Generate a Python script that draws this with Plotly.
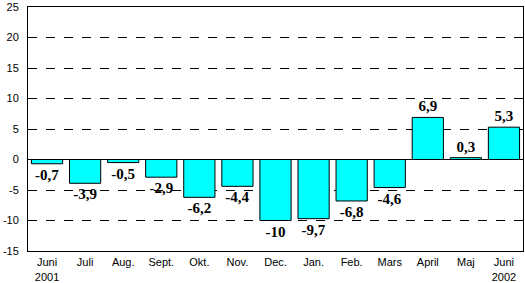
import plotly.graph_objects as go

categories = ["Juni<br>2001", "Juli", "Aug.", "Sept.", "Okt.", "Nov.", "Dec.",
              "Jan.", "Feb.", "Mars", "April", "Maj", "Juni<br>2002"]
values = [-0.7, -3.9, -0.5, -2.9, -6.2, -4.4, -10, -9.7, -6.8, -4.6, 6.9, 0.3, 5.3]
y_ticks = [-15, -10, -5, 0, 5, 10, 15, 20, 25]

labels = [f"{v:g}".replace(".", ",") for v in values]

fig = go.Figure()
fig.add_trace(go.Bar(
    x=categories, y=values,
    marker=dict(color="#00FFFF", line=dict(color="black", width=1)),
    text=labels, texttemplate="%{text}", textposition="outside", cliponaxis=False,
    textfont=dict(family="Liberation Serif", size=15, color="black", weight="bold"),
))
fig.update_layout(
    width=525, height=283,
    margin=dict(l=28, r=2, t=7, b=32),
    plot_bgcolor="white", paper_bgcolor="white",
    bargap=0.18,
    showlegend=False,
    font=dict(family="Liberation Sans", size=11, color="black"),
)
fig.update_yaxes(
    range=[-15, 25], tickvals=y_ticks, ticktext=[str(t) for t in y_ticks],
    showgrid=True, gridcolor="black",
    griddash="dash", gridwidth=1, zeroline=True, zerolinecolor="black",
    zerolinewidth=1, showline=True, linecolor="black", mirror=True,
    ticks="", tickfont=dict(size=11), ticklabelstandoff=6, automargin=False,
)
fig.update_xaxes(
    showline=True, linecolor="black", mirror=True, ticks="",
    tickfont=dict(size=11), tickangle=0, ticklabelstandoff=1, automargin=False,
)
fig.write_html("out.html")
